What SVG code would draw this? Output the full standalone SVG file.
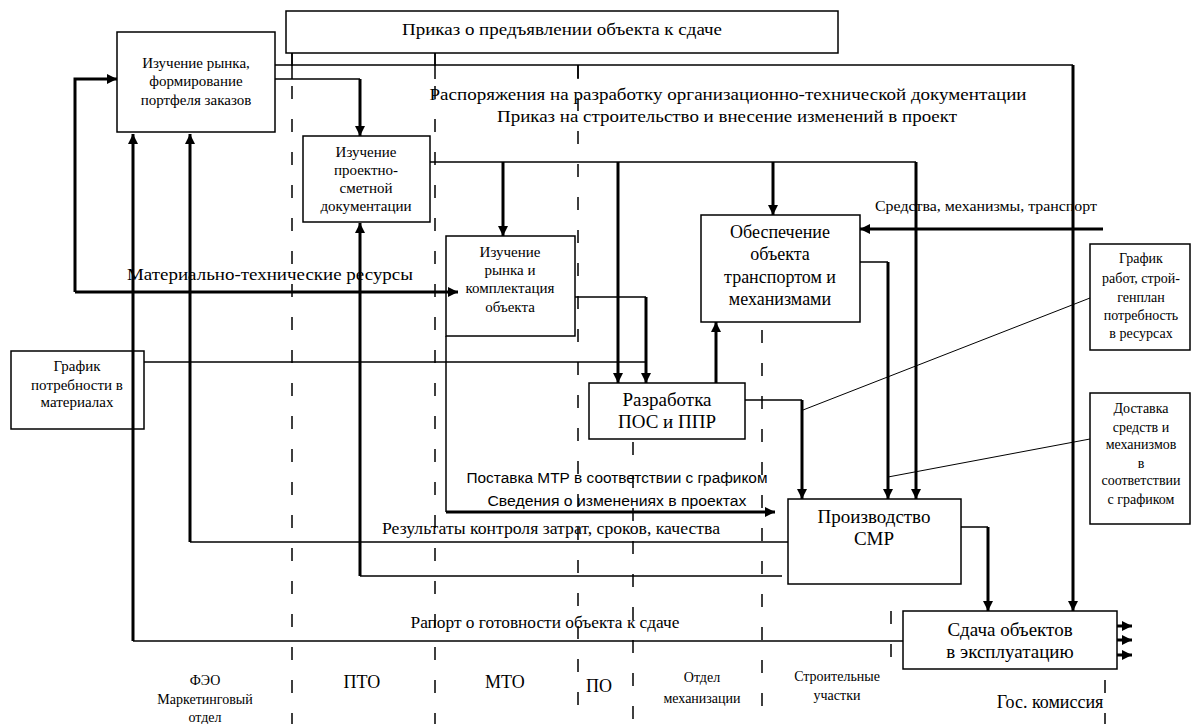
<svg xmlns="http://www.w3.org/2000/svg" width="1192" height="724" viewBox="0 0 1192 724">
<style>
.box{fill:#fff;stroke:#000;stroke-width:1.5}
.thin{fill:none;stroke:#000;stroke-width:1.5}
.thick{fill:none;stroke:#000;stroke-width:3}
.lane{fill:none;stroke:#000;stroke-width:1.5;stroke-dasharray:13 20}
.diag{fill:none;stroke:#000;stroke-width:1}
text{font-family:"Liberation Serif","Times New Roman",serif;fill:#000;text-anchor:middle}
.sans{font-family:"Liberation Sans",Arial,sans-serif}
</style>
<defs>
<marker id="ah" markerWidth="10" markerHeight="10" refX="10" refY="5" orient="auto" markerUnits="userSpaceOnUse"><path d="M0,0 L10,5 L0,10 z" fill="#000"/></marker>
</defs>
<rect width="1192" height="724" fill="#fff"/>
<g id="lanes">
<path class="lane" d="M292,53 V724"/>
<path class="lane" d="M435,53 V724"/>
<path class="lane" d="M578,65 V724"/>
<path class="lane" d="M633,442 V724"/>
<path class="lane" d="M762,330 V724"/>
<path class="lane" d="M891,611 V672"/>
<path class="lane" d="M1105,680 V724"/>
<path class="thin" d="M292,53 V79 M435,53 V79 M578,65 V79"/>
</g>
<g id="labels">
<text x="728" y="100" font-size="17" textLength="597" lengthAdjust="spacingAndGlyphs">Распоряжения на разработку организационно-технической документации</text>
<text x="727" y="122" font-size="17" textLength="460" lengthAdjust="spacingAndGlyphs">Приказ на строительство и внесение изменений в проект</text>
<text x="986" y="211" font-size="14" textLength="222" lengthAdjust="spacingAndGlyphs">Средства, механизмы, транспорт</text>
<text x="270" y="280" font-size="17" textLength="286" lengthAdjust="spacingAndGlyphs">Материально-технические ресурсы</text>
<text class="sans" x="617" y="483" font-size="14" textLength="301" lengthAdjust="spacingAndGlyphs">Поставка МТР в соответствии с графиком</text>
<text class="sans" x="617" y="506" font-size="14" textLength="259" lengthAdjust="spacingAndGlyphs">Сведения о изменениях в проектах</text>
<text x="551" y="534" font-size="16" textLength="338" lengthAdjust="spacingAndGlyphs">Результаты контроля затрат, сроков, качества</text>
<text x="545" y="628" font-size="16" textLength="269" lengthAdjust="spacingAndGlyphs">Рапорт о готовности объекта к сдаче</text>
<text x="205" y="685" font-size="14">ФЭО</text>
<text x="205" y="704" font-size="14">Маркетинговый</text>
<text x="205" y="722" font-size="14">отдел</text>
<text x="362" y="688" font-size="18">ПТО</text>
<text x="505" y="688" font-size="18">МТО</text>
<text x="599" y="692" font-size="18">ПО</text>
<text x="702" y="682" font-size="14">Отдел</text>
<text x="702" y="703" font-size="14">механизации</text>
<text x="837" y="681" font-size="14">Строительные</text>
<text x="837" y="700" font-size="14">участки</text>
<text x="1050" y="708" font-size="18">Гос. комиссия</text>
</g>
<g id="n-prikaz">
<rect class="box" x="286" y="11" width="552" height="42"/>
<text x="562" y="35" font-size="17" textLength="320" lengthAdjust="spacingAndGlyphs">Приказ о предъявлении объекта к сдаче</text>
</g>
<g id="n-market">
<rect class="box" x="117" y="32" width="158" height="100"/>
<text x="196" y="68" font-size="15">Изучение рынка,</text>
<text x="196" y="86" font-size="15">формирование</text>
<text x="196" y="105" font-size="15">портфеля заказов</text>
</g>
<g id="n-psd">
<rect class="box" x="303" y="136" width="127" height="86"/>
<text x="366" y="157" font-size="15">Изучение</text>
<text x="366" y="175" font-size="15">проектно-</text>
<text x="366" y="193" font-size="15">сметной</text>
<text x="366" y="211" font-size="15">документации</text>
</g>
<g id="n-komplekt">
<rect class="box" x="446" y="236" width="129" height="100"/>
<text x="510" y="257" font-size="15">Изучение</text>
<text x="510" y="275" font-size="15">рынка и</text>
<text x="510" y="293" font-size="15">комплектация</text>
<text x="510" y="312" font-size="15">объекта</text>
</g>
<g id="n-obesp">
<rect class="box" x="701" y="215" width="159" height="107"/>
<text x="780" y="238" font-size="18">Обеспечение</text>
<text x="780" y="260" font-size="18">объекта</text>
<text x="780" y="283" font-size="18">транспортом и</text>
<text x="780" y="305" font-size="18">механизмами</text>
</g>
<g id="n-pos">
<rect class="box" x="589" y="383" width="156" height="56"/>
<text x="667" y="406" font-size="19">Разработка</text>
<text x="667" y="428" font-size="19">ПОС и ППР</text>
</g>
<g id="n-smr">
<rect class="box" x="788" y="499" width="173" height="85"/>
<text x="874" y="523" font-size="19">Производство</text>
<text x="874" y="545" font-size="19">СМР</text>
</g>
<g id="n-sdacha">
<rect class="box" x="903" y="611" width="214" height="58"/>
<text x="1010" y="636" font-size="19">Сдача объектов</text>
<text x="1010" y="658" font-size="19">в эксплуатацию</text>
</g>
<g id="n-grafik-mat">
<rect class="box" x="11" y="351" width="133" height="78"/>
<text x="77" y="371" font-size="15">График</text>
<text x="77" y="390" font-size="15">потребности в</text>
<text x="77" y="407" font-size="15">материалах</text>
</g>
<g id="n-grafik-rab">
<rect class="box" x="1090" y="244" width="100" height="106"/>
<text x="1141" y="263" font-size="14">График</text>
<text x="1141" y="283" font-size="14">работ, строй-</text>
<text x="1141" y="302" font-size="14">генплан</text>
<text x="1141" y="320" font-size="14">потребность</text>
<text x="1141" y="338" font-size="14">в ресурсах</text>
</g>
<g id="n-dostavka">
<rect class="box" x="1090" y="393" width="100" height="131"/>
<text x="1141" y="413" font-size="14">Доставка</text>
<text x="1141" y="432" font-size="14">средств и</text>
<text x="1141" y="449" font-size="14">механизмов</text>
<text x="1141" y="468" font-size="14">в</text>
<text x="1141" y="485" font-size="14">соответствии</text>
<text x="1141" y="504" font-size="14">с графиком</text>
</g>
<g id="connectors">
<path class="thin" d="M275,65 H1073"/>
<path class="thick" d="M1073,65 V611" marker-end="url(#ah)"/>
<path class="thin" d="M275,79 H360"/>
<path class="thick" d="M360,79 V136" marker-end="url(#ah)"/>
<path class="thin" d="M430,162 H916"/>
<path class="thick" d="M916,162 V499" marker-end="url(#ah)"/>
<path class="thick" d="M503,162 V236" marker-end="url(#ah)"/>
<path class="thick" d="M618,162 V383" marker-end="url(#ah)"/>
<path class="thick" d="M773,162 V215" marker-end="url(#ah)"/>
<path class="thick" d="M1103,229 H860" marker-end="url(#ah)"/>
<path class="thick" d="M75,292 V79 H117" marker-end="url(#ah)"/>
<path class="thick" d="M75,292 H458" marker-end="url(#ah)"/>
<path class="thick" d="M133,641 V134" marker-end="url(#ah)"/>
<path class="thin" d="M133,641 H903"/>
<path class="thick" d="M190,542 V134" marker-end="url(#ah)"/>
<path class="thin" d="M190,542 H788"/>
<path class="thick" d="M360,576 V223" marker-end="url(#ah)"/>
<path class="thin" d="M360,576 H782"/>
<path class="thin" d="M144,362 H646"/>
<path class="thin" d="M575,297 H646"/>
<path class="thick" d="M646,297 V383" marker-end="url(#ah)"/>
<path class="thin" d="M446,336 V512"/>
<path class="thick" d="M446,512 H775" marker-end="url(#ah)"/>
<path class="thick" d="M716,383 V322" marker-end="url(#ah)"/>
<path class="thin" d="M745,400 H802"/>
<path class="thick" d="M802,400 V499" marker-end="url(#ah)"/>
<path class="thin" d="M860,262 H888"/>
<path class="thick" d="M888,262 V499" marker-end="url(#ah)"/>
<path class="thin" d="M961,527 H988"/>
<path class="thick" d="M988,527 V611" marker-end="url(#ah)"/>
<path class="thick" d="M1117,626 H1132" marker-end="url(#ah)"/>
<path class="thick" d="M1117,640 H1132" marker-end="url(#ah)"/>
<path class="thick" d="M1117,655 H1132" marker-end="url(#ah)"/>
<path class="diag" d="M1090,298 L803,410"/>
<path class="diag" d="M1090,439 L888,477"/>
</g>
</svg>
